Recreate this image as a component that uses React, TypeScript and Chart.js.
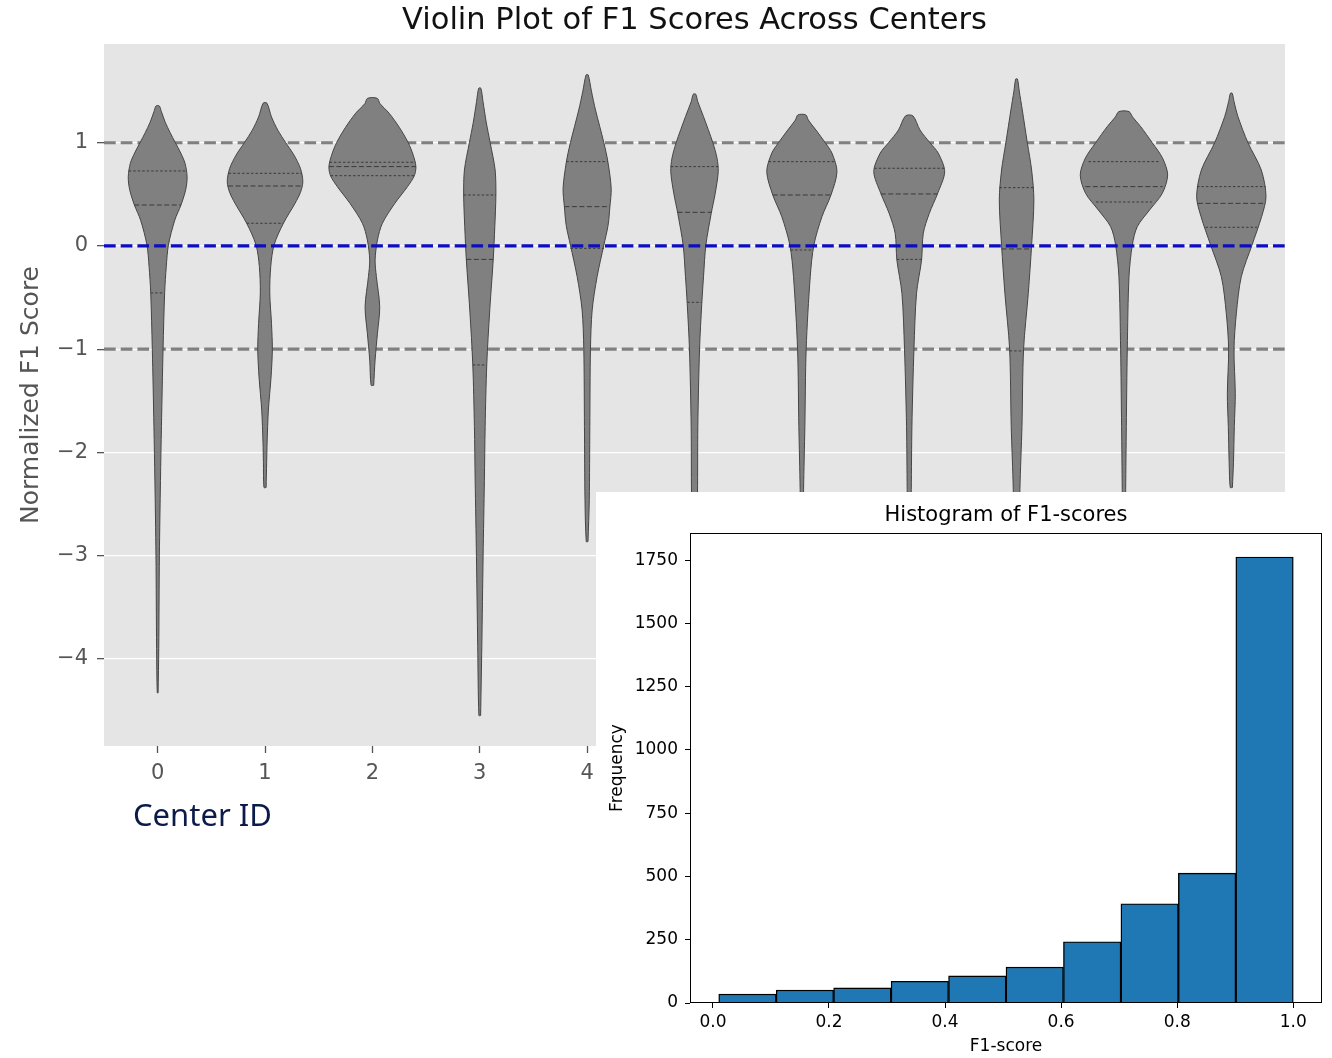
import React, { useEffect, useRef } from 'react';
import { Chart, registerables } from 'chart.js';

Chart.register(...registerables);

// ---------------- Violin plot data ----------------
const centerIds = [0, 1, 2, 3, 4, 5, 6, 7, 8, 9, 10];
const violinYTicks = [-4, -3, -2, -1, 0, 1];
const referenceLines = [1, -1];
const baselineValue = 0;

// density profile of each violin: levels (F1 score) and half-widths (in center units)
const v0Levels = [-4.33, -3.9, -3.0, -2.27, -1.75, -1.0, -0.45, -0.2, 0.01, 0.25, 0.4, 0.55, 0.67, 0.8, 0.9, 1.0, 1.1, 1.2, 1.3, 1.357];
const v0Widths = [0.004, 0.01, 0.016, 0.026, 0.035, 0.05, 0.065, 0.08, 0.1, 0.159, 0.218, 0.262, 0.274, 0.255, 0.215, 0.165, 0.115, 0.07, 0.035, 0.015];
const v1Levels = [-2.34, -2.1, -1.91, -1.59, -1.27, -1.0, -0.75, -0.455, -0.2, 0.01, 0.22, 0.414, 0.52, 0.623, 0.75, 0.88, 1.0, 1.12, 1.25, 1.383];
const v1Widths = [0.01, 0.015, 0.019, 0.031, 0.056, 0.068, 0.06, 0.044, 0.053, 0.084, 0.171, 0.28, 0.33, 0.352, 0.33, 0.27, 0.193, 0.12, 0.06, 0.018];
const v2Levels = [-1.35, -1.105, -0.846, -0.588, -0.297, -0.136, 0.058, 0.22, 0.413, 0.575, 0.68, 0.769, 0.88, 1.0, 1.15, 1.286, 1.38, 1.431];
const v2Widths = [0.012, 0.025, 0.047, 0.068, 0.037, 0.025, 0.047, 0.093, 0.209, 0.327, 0.39, 0.405, 0.38, 0.334, 0.25, 0.156, 0.07, 0.045];
const v3Levels = [-4.55, -3.88, -3.01, -2.27, -1.75, -1.153, -0.62, -0.136, 0.187, 0.494, 0.736, 1.0, 1.2, 1.4, 1.528];
const v3Widths = [0.008, 0.019, 0.031, 0.043, 0.05, 0.065, 0.093, 0.125, 0.14, 0.15, 0.143, 0.097, 0.06, 0.03, 0.01];
const v4Levels = [-2.865, -2.46, -1.75, -1.0, -0.62, -0.297, 0.01, 0.2, 0.381, 0.559, 0.817, 1.0, 1.318, 1.5, 1.657];
const v4Widths = [0.008, 0.02, 0.025, 0.031, 0.047, 0.093, 0.156, 0.195, 0.212, 0.224, 0.193, 0.156, 0.078, 0.04, 0.01];
const v5Levels = [-3.2, -2.4, -1.75, -1.0, -0.556, -0.297, 0.01, 0.316, 0.51, 0.72, 0.85, 1.0, 1.253, 1.4, 1.47];
const v5Widths = [0.015, 0.028, 0.031, 0.047, 0.068, 0.084, 0.106, 0.156, 0.193, 0.221, 0.21, 0.171, 0.084, 0.03, 0.012];
const v6Levels = [-3.0, -2.36, -1.75, -1.0, -0.297, 0.01, 0.284, 0.494, 0.72, 0.9, 1.0, 1.124, 1.22, 1.27];
const v6Widths = [0.01, 0.016, 0.028, 0.04, 0.078, 0.112, 0.187, 0.271, 0.327, 0.28, 0.218, 0.131, 0.06, 0.037];
const v7Levels = [-3.0, -2.36, -1.75, -1.0, -0.459, -0.136, 0.123, 0.316, 0.51, 0.72, 0.9, 1.0, 1.124, 1.26];
const v7Widths = [0.01, 0.019, 0.025, 0.044, 0.068, 0.115, 0.131, 0.187, 0.265, 0.33, 0.27, 0.193, 0.1, 0.035];
const v8Levels = [-3.3, -2.36, -1.75, -1.0, -0.459, 0.01, 0.446, 0.736, 1.0, 1.318, 1.5, 1.618];
const v8Widths = [0.02, 0.031, 0.05, 0.065, 0.109, 0.14, 0.161, 0.14, 0.1, 0.053, 0.025, 0.008];
const v9Levels = [-3.0, -2.36, -1.75, -1.0, -0.297, 0.01, 0.187, 0.349, 0.51, 0.688, 0.85, 1.0, 1.156, 1.25, 1.302];
const v9Widths = [0.01, 0.016, 0.022, 0.031, 0.047, 0.078, 0.124, 0.239, 0.357, 0.407, 0.36, 0.264, 0.156, 0.08, 0.047];
const v10Levels = [-2.34, -2.1, -1.75, -1.43, -1.0, -0.652, -0.297, 0.01, 0.284, 0.478, 0.736, 1.0, 1.253, 1.4, 1.48];
const v10Widths = [0.01, 0.02, 0.028, 0.037, 0.025, 0.047, 0.093, 0.193, 0.282, 0.323, 0.279, 0.155, 0.062, 0.025, 0.008];

const violinLevels = [v0Levels, v1Levels, v2Levels, v3Levels, v4Levels, v5Levels, v6Levels, v7Levels, v8Levels, v9Levels, v10Levels];
const violinWidths = [v0Widths, v1Widths, v2Widths, v3Widths, v4Widths, v5Widths, v6Widths, v7Widths, v8Widths, v9Widths, v10Widths];

// quartiles (Q1, median, Q3) and the violin half-width at each
const quartileValues = [
  [-0.455, 0.397, 0.727], [0.22, 0.581, 0.704], [0.681, 0.769, 0.811], [-1.153, -0.13, 0.494],
  [-0.023, 0.381, 0.817], [-0.546, 0.326, 0.769], [-0.039, 0.494, 0.817], [-0.13, 0.504, 0.753],
  [-1.017, -0.029, 0.565], [0.426, 0.575, 0.817], [0.181, 0.413, 0.575],
];
const quartileWidths = [
  [0.065, 0.218, 0.27], [0.171, 0.345, 0.34], [0.39, 0.405, 0.4], [0.065, 0.125, 0.15],
  [0.155, 0.212, 0.193], [0.068, 0.158, 0.22], [0.105, 0.271, 0.31], [0.115, 0.265, 0.325],
  [0.065, 0.14, 0.16], [0.26, 0.36, 0.33], [0.24, 0.31, 0.32],
];

// ---------------- Histogram data ----------------
const histBinEdges = [0.01, 0.109, 0.208, 0.307, 0.406, 0.505, 0.604, 0.703, 0.802, 0.901, 1.0];
const histCounts = [35, 51, 60, 86, 107, 142, 242, 392, 513, 1762];
const histXTicks = [0, 0.2, 0.4, 0.6, 0.8, 1.0];
const histYTicks = [0, 250, 500, 750, 1000, 1250, 1500, 1750];

const V_XMIN = -0.5;
const V_XMAX = 10.5;
const V_YMIN = -4.845;
const V_YMAX = 1.957;

const FONT = "'DejaVu Sans', sans-serif";

const areaBg = {
  id: 'areaBg',
  beforeDraw(chart: any) {
    const { ctx, chartArea } = chart;
    ctx.save();
    ctx.fillStyle = '#e5e5e5';
    ctx.fillRect(chartArea.left, chartArea.top, chartArea.right - chartArea.left, chartArea.bottom - chartArea.top);
    ctx.restore();
  },
};

const frame = {
  id: 'frame',
  afterDatasetsDraw(chart: any) {
    const { ctx, chartArea } = chart;
    ctx.save();
    ctx.strokeStyle = '#000';
    ctx.lineWidth = 1;
    ctx.strokeRect(Math.round(chartArea.left) + 0.5, Math.round(chartArea.top) + 0.5,
      Math.round(chartArea.right - chartArea.left) - 1, Math.round(chartArea.bottom - chartArea.top) - 1);
    ctx.restore();
  },
};

function ViolinChart() {
  const ref = useRef<HTMLCanvasElement | null>(null);
  useEffect(() => {
    const datasets: any[] = [];
    referenceLines.forEach((v) => {
      datasets.push({
        data: [{ x: V_XMIN, y: v }, { x: V_XMAX, y: v }],
        showLine: true, borderColor: '#808080', borderWidth: 3.2, borderDash: [11.7, 5],
        pointRadius: 0, order: 10,
      });
    });
    centerIds.forEach((c, i) => {
      const lv = violinLevels[i];
      const wd = violinWidths[i];
      const right = lv.map((y, k) => ({ x: c + wd[k], y }));
      const left = lv.map((y, k) => ({ x: c - wd[k], y })).reverse();
      const pts = [...right, ...left, right[0]];
      datasets.push({
        data: pts, showLine: true, fill: 'shape', backgroundColor: '#808080',
        borderColor: '#454545', borderWidth: 1, pointRadius: 0, tension: 0.3, order: 5,
      });
      quartileValues[i].forEach((q, k) => {
        const w = quartileWidths[i][k];
        datasets.push({
          data: [{ x: c - w, y: q }, { x: c + w, y: q }],
          showLine: true, borderColor: '#3a3a3a', borderWidth: 1,
          borderDash: k === 1 ? [5, 2.5] : [2.5, 2], pointRadius: 0, order: 3,
        });
      });
    });
    datasets.push({
      data: [{ x: V_XMIN, y: baselineValue }, { x: V_XMAX, y: baselineValue }],
      showLine: true, borderColor: '#0c0cc0', borderWidth: 3.2, borderDash: [11.7, 5],
      pointRadius: 0, order: 0,
    });

    const chart = new Chart(ref.current as HTMLCanvasElement, {
      type: 'scatter',
      data: { datasets },
      options: {
        responsive: false,
        animation: false,
        events: [],
        layout: { padding: { left: 0, right: 47, top: 0, bottom: 0 } },
        plugins: {
          legend: { display: false },
          tooltip: { enabled: false },
          title: {
            display: true, text: 'Violin Plot of F1 Scores Across Centers', color: '#111',
            font: { family: FONT, size: 30.5, weight: 'normal' }, padding: { top: 3, bottom: 4.4 }, fullSize: false,
          },
        },
        scales: {
          x: {
            type: 'linear', min: V_XMIN, max: V_XMAX, offset: false,
            afterBuildTicks: (s: any) => { s.ticks = centerIds.map((v) => ({ value: v })); },
            afterFit: (s: any) => { s.height = 54; },
            ticks: { color: '#555', font: { family: FONT, size: 21 }, padding: 8, autoSkip: false, maxRotation: 0, callback: (v: any) => String(v) },
            grid: { drawOnChartArea: false, drawTicks: true, tickLength: 7, tickColor: '#555', tickWidth: 1.3 },
            border: { display: false },
          },
          y: {
            type: 'linear', min: V_YMIN, max: V_YMAX,
            afterBuildTicks: (s: any) => { s.ticks = violinYTicks.map((v) => ({ value: v })); },
            afterFit: (s: any) => { s.width = 104; },
            ticks: {
              color: '#555', font: { family: FONT, size: 21 }, padding: 9,
              callback: (v: any) => (v < 0 ? '\u2212' + Math.abs(v) : String(v)),
            },
            grid: { color: '#ffffff', lineWidth: 1.3, drawTicks: true, tickLength: 7, tickColor: '#555', tickWidth: 1.3 },
            border: { display: false },
            title: {
              display: true, text: 'Normalized F1 Score', color: '#555',
              font: { family: FONT, size: 25 }, padding: { top: 16, bottom: 0 },
            },
          },
        },
      } as any,
      plugins: [areaBg],
    });
    return () => chart.destroy();
  }, []);
  return <canvas ref={ref} width={1332} height={800} style={{ position: 'absolute', left: 0, top: 0, width: 1332, height: 800 }} />;
}

function HistogramChart() {
  const ref = useRef<HTMLCanvasElement | null>(null);
  useEffect(() => {
    const data = histCounts.map((c, i) => ({ x: (histBinEdges[i] + histBinEdges[i + 1]) / 2, y: c }));
    const chart = new Chart(ref.current as HTMLCanvasElement, {
      type: 'bar',
      data: {
        datasets: [{
          data, backgroundColor: '#1f77b4', borderColor: '#000000', borderWidth: 1.4,
          barPercentage: 1, categoryPercentage: 1,
        }],
      },
      options: {
        responsive: false,
        animation: false,
        events: [],
        layout: { padding: { left: 0, right: 10, top: 0, bottom: 0 } },
        plugins: {
          legend: { display: false },
          tooltip: { enabled: false },
          title: {
            display: true, text: 'Histogram of F1-scores', color: '#000',
            font: { family: FONT, size: 21, weight: 'normal' }, padding: { top: 11, bottom: 4.8 }, fullSize: false,
          },
        },
        scales: {
          x: {
            type: 'linear', min: -0.0395, max: 1.0495, offset: false,
            afterBuildTicks: (s: any) => { s.ticks = histXTicks.map((v) => ({ value: v })); },
            afterFit: (s: any) => { s.height = 55; },
            ticks: { color: '#000', font: { family: FONT, size: 17 }, padding: 4, autoSkip: false, maxRotation: 0, callback: (v: any) => Number(v).toFixed(1) },
            grid: { offset: false, drawOnChartArea: false, drawTicks: true, tickLength: 5, tickColor: '#000', tickWidth: 1 },
            border: { display: false },
            title: { display: true, text: 'F1-score', color: '#000', font: { family: FONT, size: 17 }, padding: { top: 0, bottom: 1 } },
          },
          y: {
            type: 'linear', min: 0, max: 1857,
            afterBuildTicks: (s: any) => { s.ticks = histYTicks.map((v) => ({ value: v })); },
            afterFit: (s: any) => { s.width = 94; },
            ticks: { color: '#000', font: { family: FONT, size: 17 }, padding: 7, callback: (v: any) => String(v) },
            grid: { drawOnChartArea: false, drawTicks: true, tickLength: 5, tickColor: '#000', tickWidth: 1 },
            border: { display: false },
            title: { display: true, text: 'Frequency', color: '#000', font: { family: FONT, size: 17 }, padding: { top: 11, bottom: 0 } },
          },
        },
      } as any,
      plugins: [frame],
    });
    return () => chart.destroy();
  }, []);
  return (
    <div style={{ position: 'absolute', left: 596, top: 492, width: 736, height: 566, background: '#ffffff' }}>
      <canvas ref={ref} width={736} height={566} style={{ width: 736, height: 566, display: 'block' }} />
    </div>
  );
}

export default function App() {
  return (
    <div style={{ position: 'absolute', left: 0, top: 0, width: 1332, height: 1058, background: '#ffffff', overflow: 'hidden' }}>
      <ViolinChart />
      <div style={{
        position: 'absolute', left: 133, top: 799, fontFamily: "'Noto Sans', sans-serif", fontSize: 31,
        lineHeight: '31px', color: '#0b1a4a', whiteSpace: 'nowrap',
      }}>Center ID</div>
      <HistogramChart />
    </div>
  );
}
